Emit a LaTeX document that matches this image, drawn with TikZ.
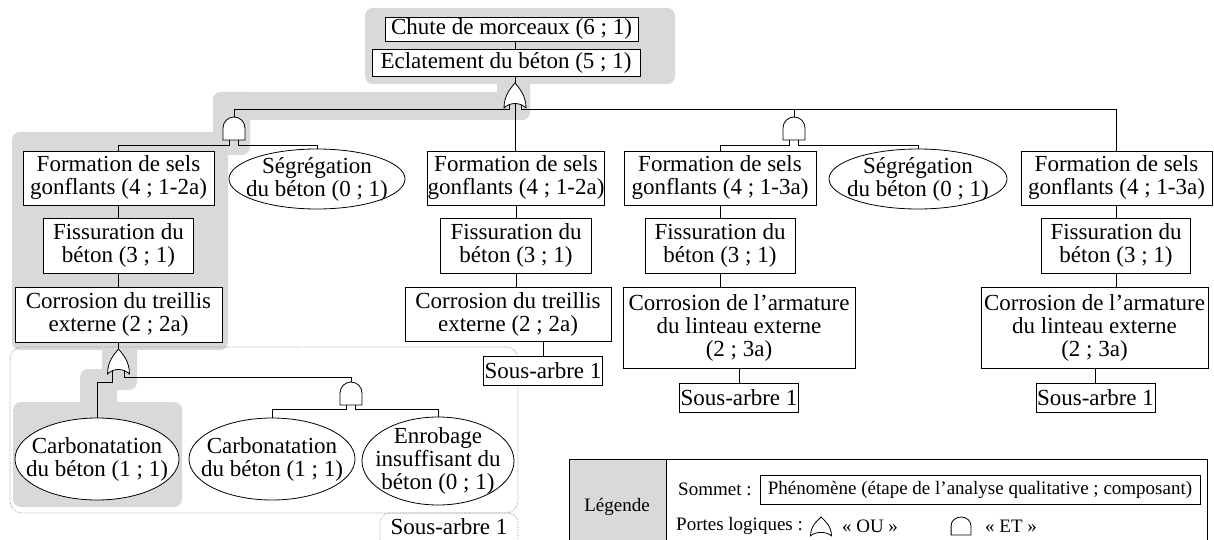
\documentclass[tikz,border=0pt]{standalone}
\usepackage{fontspec}
\setmainfont{Liberation Serif}
\newcommand\mainf{\fontsize{23}{23}\selectfont}
\newcommand\legf{\fontsize{19}{20}\selectfont}
\pgfdeclarelayer{bg}
\pgfdeclarelayer{wires}
\pgfsetlayers{bg,wires,main}
\definecolor{hlgray}{HTML}{D9D9D9}
\tikzset{
 box/.style={draw, fill=white, line width=0.8pt, inner sep=0pt, align=center, font=\mainf},
 elab/.style={inner sep=0pt, align=center, font=\mainf},
 ellline/.style={line width=0.8pt, fill=white},
 wire/.style={line width=0.8pt},
 gateline/.style={line width=0.8pt, fill=white},
 hl/.style={fill=hlgray, rounded corners=8pt},
 frame/.style={densely dotted, draw=gray, line width=0.6pt, rounded corners=12pt},
 orgate/.pic={
   \draw[gateline] (0,0) .. controls (4,5) and (11,12) .. (11,25) .. controls (5,19) and (-5,19) .. (-11,25) .. controls (-11,12) and (-4,5) .. (0,0) -- cycle;
   \coordinate (-top) at (0,0);
   \coordinate (-l) at (-6,21);
   \coordinate (-m) at (0,19);
   \coordinate (-r) at (6,21);
 },
 andgate/.pic={
   \draw[gateline] (-11,23) -- (-11,11) arc[start angle=180, end angle=360, radius=11] -- (11,23) -- cycle;
   \coordinate (-top) at (0,0);
   \coordinate (-l) at (-4.5,20);
   \coordinate (-r) at (4.5,20);
 }
}
\begin{document}
\begin{tikzpicture}[x=1pt,y=-1pt]
\useasboundingbox (0,0) rectangle (1214,540);
% highlighted path
\begin{pgfonlayer}{bg}
\fill[hl] (365,8) rectangle (675,84);
\fill[hl] (497,60) rectangle (530,120);
\fill[hl] (213,92) rectangle (530,120);
\fill[hl] (213,92) rectangle (250,155);
\fill[hl] (12,132) rectangle (228,350);
\fill[hl] (102,330) rectangle (137,390);
\fill[hl] (80,369) rectangle (117,410);
\fill[hl] (13,402) rectangle (182,507);
\draw[frame] (10,347) rectangle (518,513);
\draw[frame, rounded corners=10pt] (380,513) rectangle (518,556);
\end{pgfonlayer}
\coordinate (busA) at (0,109);
\coordinate (busB) at (0,145);
\coordinate (busC) at (0,382);
\coordinate (busD) at (0,377);
\coordinate (busE) at (0,409);
% top
\node[box, minimum width=253pt, minimum height=24pt] (chute) at (511.5,29) {Chute de morceaux (6 ; 1)};
\node[box, minimum width=268pt, minimum height=27pt] (eclat) at (506,62.5) {Eclatement du béton (5 ; 1)};
% column 1
\node[box, minimum width=191pt, minimum height=54pt] (f1) at (118.5,178) {Formation de sels\\gonflants (4 ; 1-2a)};
\node[elab, minimum width=176pt, minimum height=60pt] (s1) at (317,179) {Ségrégation\\du béton (0 ; 1)};
\node[box, minimum width=150pt, minimum height=55pt] (fi1) at (118.5,245.5) {Fissuration du\\béton (3 ; 1)};
\node[box, minimum width=207pt, minimum height=55pt] (c1) at (118.5,314.5) {Corrosion du treillis\\externe (2 ; 2a)};
\node[elab, minimum width=164pt, minimum height=82pt] (carb1) at (97,459) {Carbonatation\\du béton (1 ; 1)};
\node[elab, minimum width=166pt, minimum height=82pt] (carb2) at (272,459) {Carbonatation\\du béton (1 ; 1)};
\node[elab, minimum width=152pt, minimum height=88pt] (enrob) at (438,461) {Enrobage\\insuffisant du\\béton (0 ; 1)};
\node[elab] (sa1) at (449,527) {Sous-arbre 1};
% column 2
\node[box, minimum width=177pt, minimum height=54pt] (f2) at (516,178) {Formation de sels\\gonflants (4 ; 1-2a)};
\node[box, minimum width=151pt, minimum height=55pt] (fi2) at (516,245.5) {Fissuration du\\béton (3 ; 1)};
\node[box, minimum width=206pt, minimum height=54pt] (c2) at (508,314) {Corrosion du treillis\\externe (2 ; 2a)};
\node[box, minimum width=119pt, minimum height=29pt] (sa2) at (543,370.5) {Sous-arbre 1};
% column 3
\node[box, minimum width=192pt, minimum height=54pt] (f3) at (720,178) {Formation de sels\\gonflants (4 ; 1-3a)};
\node[elab, minimum width=178pt, minimum height=60pt] (s2) at (918,179) {Ségrégation\\du béton (0 ; 1)};
\node[box, minimum width=150pt, minimum height=55pt] (fi3) at (720,245.5) {Fissuration du\\béton (3 ; 1)};
\node[box, minimum width=232pt, minimum height=81pt] (c3) at (739,327.5) {Corrosion de l’armature\\du linteau externe\\(2 ; 3a)};
\node[box, minimum width=119pt, minimum height=29pt] (sa3) at (739,397.5) {Sous-arbre 1};
% column 4
\node[box, minimum width=191pt, minimum height=54pt] (f4) at (1116.5,178) {Formation de sels\\gonflants (4 ; 1-3a)};
\node[box, minimum width=149pt, minimum height=55pt] (fi4) at (1116,245.5) {Fissuration du\\béton (3 ; 1)};
\node[box, minimum width=227pt, minimum height=81pt] (c4) at (1094.5,327.5) {Corrosion de l’armature\\du linteau externe\\(2 ; 3a)};
\node[box, minimum width=119pt, minimum height=29pt] (sa4) at (1095.5,397.5) {Sous-arbre 1};
% gates
\pic (g1) at (515,83) {orgate};
\pic (a1) at (234,117) {andgate};
\pic (a2) at (794,117) {andgate};
\pic (g2) at (118.5,349) {orgate};
\pic (a3) at (351,382) {andgate};
% ellipses
\begin{pgfonlayer}{bg}
\draw[ellline] (s1.center) ellipse [x radius=88, y radius=30];
\draw[ellline] (s2.center) ellipse [x radius=89, y radius=30];
\draw[ellline] (carb1.center) ellipse [x radius=82, y radius=41];
\draw[ellline] (carb2.center) ellipse [x radius=83, y radius=41];
\draw[ellline] (enrob.center) ellipse [x radius=76, y radius=44];
\end{pgfonlayer}
% wires
\begin{pgfonlayer}{wires}
\draw[wire] (g1-top |- chute.south) -- (g1-top |- eclat.north);
\draw[wire] (g1-top |- eclat.south) -- (g1-top);
\draw[wire] (g1-l) -- (g1-l |- busA) -- (a1-top |- busA) -- (a1-top);
\draw[wire] (g1-r) -- (g1-r |- busA) -- (f4.north |- busA) -- (f4.north);
\draw[wire] (a2-top |- busA) -- (a2-top);
\draw[wire] (g1-m) -- (g1-m |- f2.north);
\draw[wire] (a1-l) -- (a1-l |- busB) -| (f1.north);
\draw[wire] (a1-r) -- (a1-r |- busB) -| (s1.north);
\draw[wire] (a2-l) -- (a2-l |- busB) -| (f3.north);
\draw[wire] (a2-r) -- (a2-r |- busB) -| (s2.north);
\draw[wire] (f1.south) -- (f1.south |- fi1.north);
\draw[wire] (fi1.south) -- (fi1.south |- c1.north);
\draw[wire] (g2-top |- c1.south) -- (g2-top);
\draw[wire] (g2-l) -- (g2-l |- busC) -| (carb1.north);
\draw[wire] (g2-r) -- (g2-r |- busD) -| (a3-top);
\draw[wire] (a3-l) -- (a3-l |- busE) -| (carb2.north);
\draw[wire] (a3-r) -- (a3-r |- busE) -| (enrob.north);
\draw[wire] (f2.south) -- (f2.south |- fi2.north);
\draw[wire] (fi2.south) -- (fi2.south |- c2.north);
\draw[wire] (sa2.north |- c2.south) -- (sa2.north);
\draw[wire] (f3.south) -- (f3.south |- fi3.north);
\draw[wire] (fi3.south) -- (fi3.south |- c3.north);
\draw[wire] (sa3.north |- c3.south) -- (sa3.north);
\draw[wire] (f4.south) -- (f4.south |- fi4.north);
\draw[wire] (fi4.south) -- (fi4.south |- c4.north);
\draw[wire] (sa4.north |- c4.south) -- (sa4.north);
\end{pgfonlayer}
% legend
\draw[line width=0.8pt, fill=hlgray] (569,459) rectangle (666,580);
\draw[line width=0.8pt] (569,459) rectangle (1207,580);
\node[font=\legf] (leg) at (617,507) {Légende};
\node[font=\legf, anchor=west, inner sep=0pt] (som) at (678,489) {Sommet :};
\node[draw, line width=0.8pt, font=\legf, minimum width=440pt, minimum height=29pt, inner sep=0pt] (phen) at (980,490) {Phénomène (étape de l’analyse qualitative ; composant)};
\node[font=\legf, anchor=west, inner sep=0pt] (portes) at (676,526) {Portes logiques :};
\pic[xscale=0.95, yscale=0.75] (lor) at (821,517) {orgate};
\node[font=\legf] (ou) at (870,526) {« OU »};
\pic[xscale=0.9, yscale=0.78] (land) at (961,517) {andgate};
\node[font=\legf] (et) at (1011,526) {« ET »};
\end{tikzpicture}
\end{document}
